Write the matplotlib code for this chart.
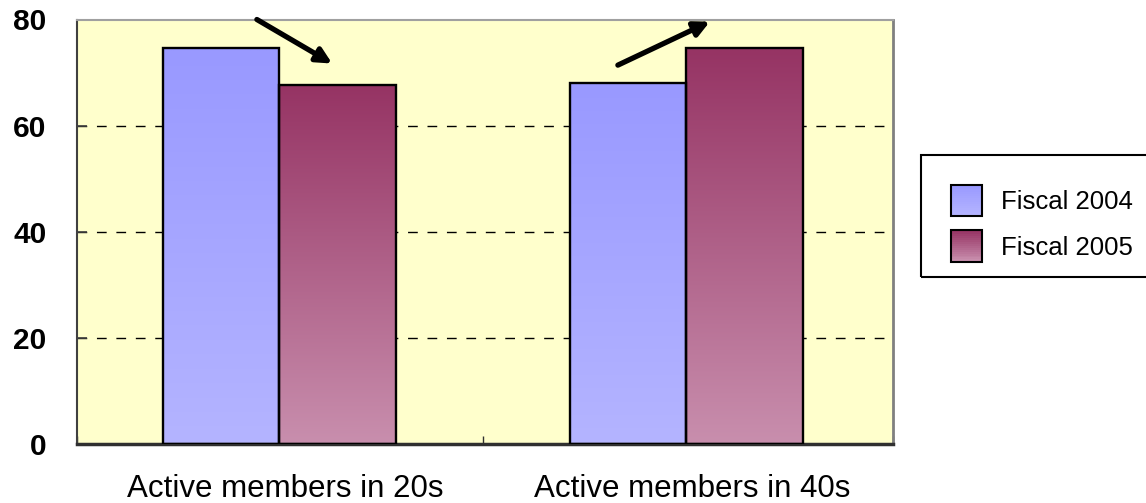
import numpy as np
import matplotlib.pyplot as plt
from matplotlib.patches import Rectangle
from matplotlib.legend_handler import HandlerBase
from matplotlib.transforms import ScaledTranslation

plt.rcParams['font.family'] = ['Liberation Sans', 'DejaVu Sans']

categories = ["Active members in 20s", "Active members in 40s"]
series_names = ["Fiscal 2004", "Fiscal 2005"]
fiscal_2004 = [74.6, 68.1]
fiscal_2005 = [67.7, 74.6]
y_ticks = [0, 20, 40, 60, 80]

# gradient colours per series: (top, bottom)
grad_2004 = ("#9999FF", "#B4B4FF")
grad_2005 = ("#963464", "#C88EAD")


def gradient_image(top, bottom, n=64):
    c0 = np.array(plt.matplotlib.colors.to_rgb(top))
    c1 = np.array(plt.matplotlib.colors.to_rgb(bottom))
    t = np.linspace(0, 1, n)[:, None]
    return (c0 * (1 - t) + c1 * t)[:, None, :]


class GradientHandle:
    def __init__(self, top, bottom):
        self.colors = (top, bottom)


class GradientHandler(HandlerBase):
    def create_artists(self, legend, orig_handle, xdescent, ydescent,
                       width, height, fontsize, trans):
        top, bottom = orig_handle.colors
        n = 16
        img = gradient_image(top, bottom, n)
        arts = []
        side = min(width, height)
        x0 = -xdescent + (width - side) / 2
        y0 = -ydescent + (height - side) / 2
        for i in range(n):
            r = Rectangle((x0, y0 + side * (n - 1 - i) / n), side, side / n + 0.3,
                          facecolor=img[i, 0], edgecolor='none', transform=trans)
            arts.append(r)
        arts.append(Rectangle((x0, y0), side, side, facecolor='none',
                              edgecolor='black', linewidth=1.5, transform=trans))
        return arts


fig = plt.figure(figsize=(11.46, 5.03), dpi=100)
ax = fig.add_axes([77 / 1146, 1 - 444 / 503, 816 / 1146, 424.5 / 503])
ax.set_facecolor("#FFFFCC")

x = np.arange(len(categories))
w = 0.286
bars_a = ax.bar(x - w / 2, fiscal_2004, w, edgecolor='black', linewidth=1.7,
                facecolor='none', zorder=3)
bars_b = ax.bar(x + w / 2, fiscal_2005, w, edgecolor='black', linewidth=1.7,
                facecolor='none', zorder=3)

# fill each bar with a vertical gradient, clipped to the bar outline
for bars, grad in ((bars_a, grad_2004), (bars_b, grad_2005)):
    for b in bars:
        x0, y0 = b.get_x(), b.get_y()
        bw, bh = b.get_width(), b.get_height()
        im = ax.imshow(gradient_image(*grad), extent=(x0, x0 + bw, y0, y0 + bh),
                       aspect='auto', origin='upper', zorder=2, interpolation='bilinear')
        im.set_clip_path(b)

ax.set_xlim(-0.497, 1.508)
ax.set_ylim(0, 80)

ax.set_yticks(y_ticks)
ax.set_yticklabels([str(v) for v in y_ticks], fontsize=21.5, fontweight='bold')
ax.tick_params(axis='y', direction='in', length=7, width=1.2, pad=22, color='#404040')

ax.set_xticks(x)
ax.set_xticklabels(categories, fontsize=22.5)
ax.tick_params(axis='x', which='major', length=0, pad=21.5)
shift = ScaledTranslation(6 / 100, 0, fig.dpi_scale_trans)
for lbl in ax.get_xticklabels():
    lbl.set_transform(lbl.get_transform() + shift)
ax.set_xticks([-0.497, 0.5, 1.508], minor=True)
ax.tick_params(axis='x', which='minor', direction='in', length=6, width=1, color='#303030')

for v in y_ticks[1:-1]:
    ax.axhline(v, color='black', linewidth=1, linestyle=(0, (7, 7)), zorder=1)

ax.spines['left'].set_color('#404040')
ax.spines['left'].set_linewidth(1.5)
ax.spines['bottom'].set_color('#303030')
ax.spines['bottom'].set_linewidth(2.5)
ax.spines['top'].set_color('#A0A0A0')
ax.spines['top'].set_linewidth(1.5)
ax.spines['right'].set_color('#808080')
ax.spines['right'].set_linewidth(2)

# trend arrows above each group
arrow_kw = dict(arrowstyle='-|>,head_length=0.9,head_width=0.45', color='black',
                linewidth=3.8, shrinkA=0, shrinkB=0)
ax.annotate('', xy=(0.13, 71.7), xytext=(-0.055, 80.0),
            arrowprops=arrow_kw, annotation_clip=False, zorder=5)
ax.annotate('', xy=(1.058, 79.6), xytext=(0.832, 71.4),
            arrowprops=arrow_kw, annotation_clip=False, zorder=5)

# legend entries without frame; the box is drawn separately
handles = [GradientHandle(*grad_2004), GradientHandle(*grad_2005)]
leg = fig.legend(handles, series_names, handler_map={GradientHandle: GradientHandler()},
                 loc='upper left', bbox_to_anchor=(951 / 1146, 1 - 185 / 503),
                 bbox_transform=fig.transFigure, fontsize=18.5, frameon=False,
                 borderaxespad=0, borderpad=0,
                 handlelength=1.22, handleheight=1.5, handletextpad=0.72,
                 labelspacing=0.55)
fig.add_artist(Rectangle((921 / 1146, 1 - 277 / 503), 0.3, 122 / 503,
                         transform=fig.transFigure, fill=False,
                         edgecolor='black', linewidth=1.5))

fig.savefig('out.png', dpi=100)
